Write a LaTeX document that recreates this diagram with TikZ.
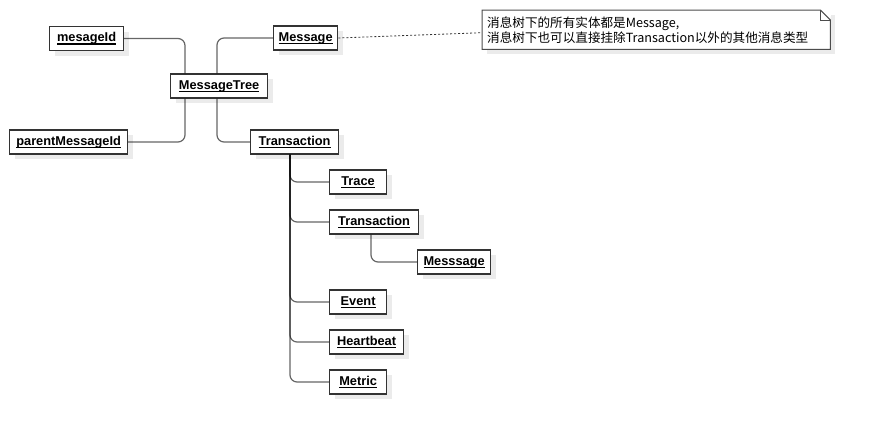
\documentclass[tikz,border=0pt]{standalone}
\usepackage{fontspec}
\setmainfont{Liberation Sans}
\newfontfamily\cjk{Noto Sans CJK SC}
\usetikzlibrary{shadows}

\newcommand\entname[1]{\leavevmode\setbox0\hbox{#1}\rlap{\vrule height -1.6pt depth 2.8pt width \wd0}\box0}

\begin{document}
\begin{tikzpicture}[x=1pt,y=-1pt,
        entity/.style={rectangle,draw=black!80,line width=1.2pt,fill=white,
            inner xsep=5pt,minimum height=24pt,anchor=west,
            font=\fontsize{12.8}{14}\selectfont\bfseries,
            drop shadow={shadow xshift=5pt,shadow yshift=-5pt,fill=black!8,opacity=1}},
        link/.style={draw=black,draw opacity=0.6,line width=1.2pt,rounded corners=7pt},
        note/.style={anchor=north west,text width=338pt,inner xsep=5pt,inner ysep=3pt,
            minimum height=39pt,align=left,fill=white,font=\cjk\fontsize{12.6}{15}\selectfont,
            drop shadow={shadow xshift=5pt,shadow yshift=-5pt,fill=black!8,opacity=1}},
        noteline/.style={draw=black!70,line width=1pt},
        noteref/.style={draw=black!80,line width=0.8pt,dash pattern=on 2pt off 2pt}]

        \useasboundingbox (0,0) rectangle (869,434);

        % the tree
        \node[entity,minimum width=74pt] (mid) at (49,38.5) {\entname{mesageId}};
        \node[entity,minimum width=64pt] (msg) at (273,38) {\entname{Message}};
        \node[entity,minimum width=97pt] (tree) at (170,86) {\entname{MessageTree}};
        \node[entity,minimum width=118pt] (pid) at (9,142) {\entname{parentMessageId}};
        \node[entity,minimum width=88pt] (trans) at (250,142) {\entname{Transaction}};
        \node[entity,minimum width=57pt] (trace) at (329,182) {\entname{Trace}};
        \node[entity,minimum width=89pt] (subtrans) at (329,222) {\entname{Transaction}};
        \node[entity,minimum width=73pt] (submsg) at (417,262) {\entname{Messsage}};
        \node[entity,minimum width=57pt] (event) at (329,302) {\entname{Event}};
        \node[entity,minimum width=74pt] (heartbeat) at (329,342) {\entname{Heartbeat}};
        \node[entity,minimum width=57pt] (metric) at (329,382) {\entname{Metric}};

        \draw[link] (mid.east) -| ([xshift=15pt]tree.north west);
        \draw[link] (pid.east) -| ([xshift=15pt]tree.south west);
        \draw[link] (msg.west) -| ([xshift=47pt]tree.north west);
        \draw[link] ([xshift=47pt]tree.south west) |- (trans.west);

        \foreach \child in {trace,subtrans,event,heartbeat,metric}
            \draw[link] ([xshift=40pt]trans.south west) |- (\child.west);
        \draw[link] ([xshift=42pt]subtrans.south west) |- (submsg.west);

        % the note, with its folded corner
        \node[note] (note) at (482,10) {消息树下的所有实体都是Message,\\消息树下也可以直接挂除Transaction以外的其他消息类型};
        \fill[white] ([xshift=-10pt]note.north east) -- ([xshift=1pt,yshift=1pt]note.north east)
            -- ([yshift=-10pt]note.north east) -- cycle;
        \draw[noteline] (note.north west) -- ([xshift=-10pt]note.north east)
            -- ([yshift=-10pt]note.north east) -- (note.south east)
            -- (note.south west) -- cycle;
        \draw[noteline] ([xshift=-10pt]note.north east)
            |- ([yshift=-10pt]note.north east);

        \draw[noteref] (msg.east) -- ([yshift=-3pt]note.west);
\end{tikzpicture}
\end{document}
